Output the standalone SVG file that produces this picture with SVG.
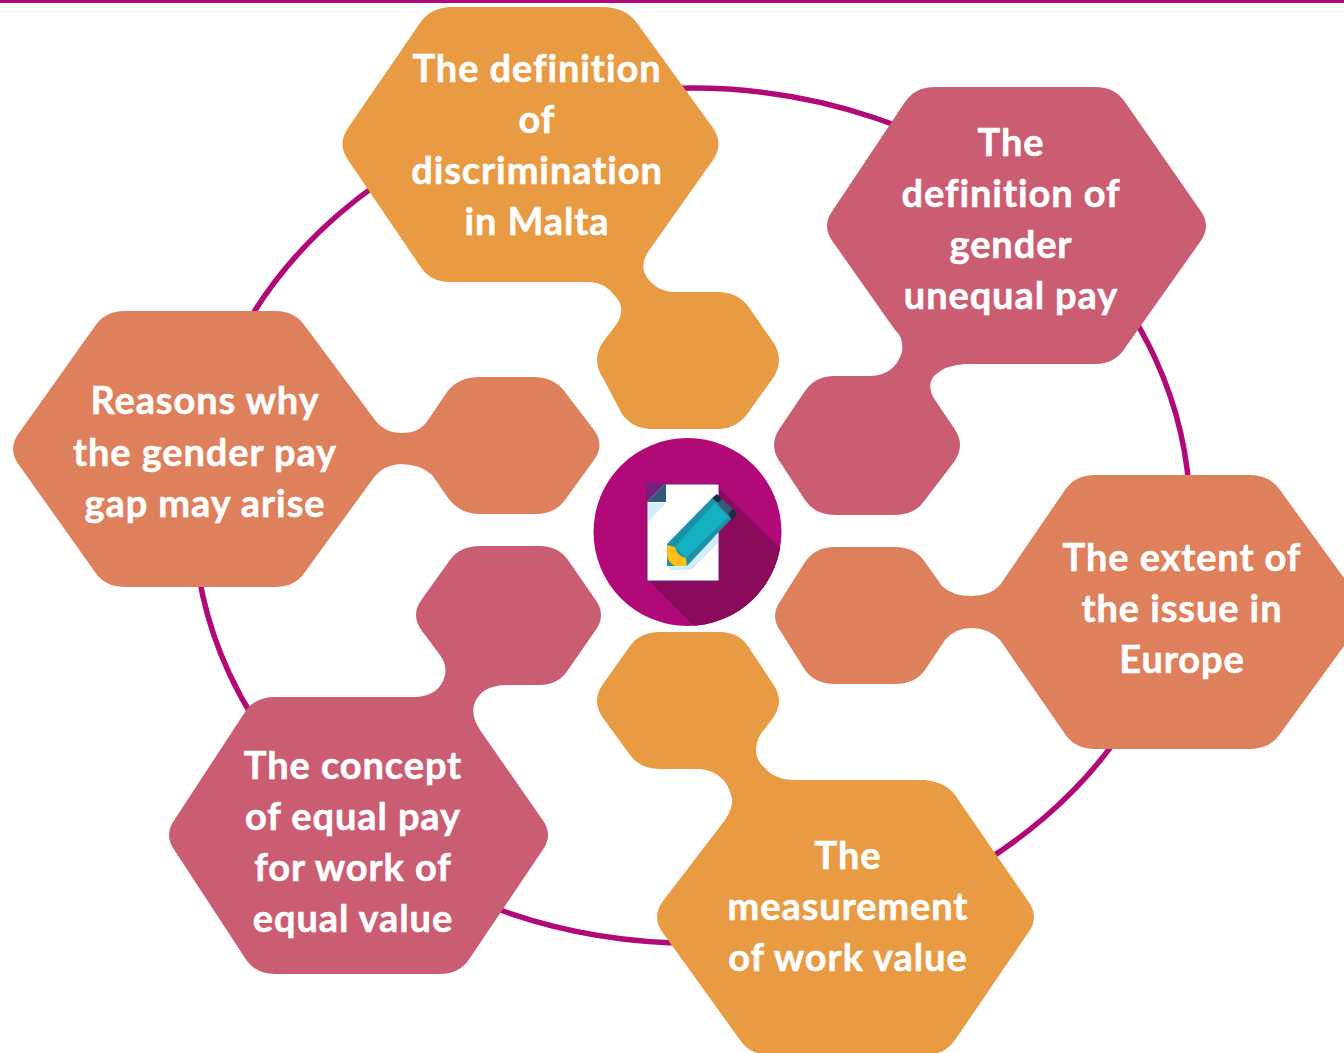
<svg xmlns="http://www.w3.org/2000/svg" width="1344" height="1053" viewBox="0 0 1344 1053">
<style>
.o{fill:#E99B43}.p{fill:#CB5D73}.s{fill:#DE805C}
text{font-family:"Lato","Liberation Sans",sans-serif;font-weight:700;font-size:38px;fill:#fff;stroke:#fff;stroke-width:.5px;letter-spacing:.9px;font-variant-ligatures:none;text-anchor:middle}
</style>
<defs><clipPath id="cc"><circle cx="687.5" cy="532" r="94"/></clipPath></defs>
<rect width="1344" height="1053" fill="#fff"/>
<rect width="1344" height="3" fill="#B10A78"/>
<g id="connectors"><ellipse cx="692" cy="515.500" rx="498" ry="427.500" fill="none" stroke="#B10A78" stroke-width="5.5"/></g>
<g id="node-top">
<path class="o" d="M450 7L605 7Q626 8 637 23L713 128Q724 144 713 160L648 252Q637 270 652 283Q660 291 672 292L720 292Q738 293 748 306L773 342Q785 360 773 378L748 413Q737 428 720 429L650 429Q632 428 622 414L603 378Q591 360 603 342L616 325Q627 308 615 296Q606 283 590 282L450 282Q430 282 420 266L348 160Q337 144 348 128L420 23Q430 8 450 7Z"/>
<text x="537" y="82">The definition</text><text x="537" y="133">of</text><text x="537" y="184">discrimination</text><text x="537" y="235">in Malta</text>
</g>
<g id="node-top-right">
<path class="p" d="M935 87L1095 87Q1115 87 1125 102L1200 210Q1212 226 1200 242L1125 348Q1115 364 1095 364L965 364Q945 365 934 376Q926 386 935 400L954 428Q966 445 954 462L925 500Q915 515 895 515L835 515Q815 515 805 500L780 462Q768 445 780 428L805 391Q815 376 835 376L870 376Q895 375 902 352Q904 338 895 330L833 242Q821 226 833 210L905 102Q915 87 935 87Z"/>
<text x="1011" y="156">The</text><text x="1011" y="207">definition of</text><text x="1011" y="258">gender</text><text x="1011" y="309">unequal pay</text>
</g>
<g id="node-right">
<path class="s" d="M1095 475L1250 475Q1270 475 1280 490L1344 578L1344 646L1280 734Q1270 749 1250 749L1095 749Q1075 749 1065 734L1000 640Q988 628 972 628Q955 628 945 640L925 670Q915 684 895 684L835 684Q815 684 805 670L781 632Q769 616 781 600L805 562Q815 547 835 547L895 547Q915 547 925 562L942 586Q952 596 972 596Q990 596 1000 585L1065 490Q1075 475 1095 475Z"/>
<text x="1182" y="571">The extent of</text><text x="1182" y="622">the issue in</text><text x="1182" y="673">Europe</text>
</g>
<g id="node-bottom">
<path class="o" d="M660 632L720 632Q738 632 748 646L773 684Q785 701 773 718L760 735Q750 755 765 768Q775 780 795 780L925 780Q945 782 955 795L1028 901Q1040 917 1028 933L955 1040Q945 1055 925 1055L770 1055Q750 1055 740 1040L663 933Q651 917 663 901L725 820Q735 805 731 795Q725 772 700 769L660 769Q640 769 630 755L603 718Q591 701 603 684L630 646Q640 632 660 632Z"/>
<text x="848" y="869">The</text><text x="848" y="920">measurement</text><text x="848" y="971">of work value</text>
</g>
<g id="node-bottom-left">
<path class="p" d="M480 546L540 546Q558 546 568 560L595 599Q607 615 595 631L568 670Q558 685 540 685L505 685Q480 686 474 705Q471 716 480 730L542 819Q554 835 542 851L470 958Q460 974 440 974L275 974Q255 974 245 958L175 851Q163 835 175 819L245 712Q255 697 275 697L415 697Q440 696 445 675Q447 665 440 655L422 631Q410 615 422 599L450 560Q460 546 480 546Z"/>
<text x="353" y="779">The concept</text><text x="353" y="830">of equal pay</text><text x="353" y="881">for work of</text><text x="353" y="932">equal value</text>
</g>
<g id="node-left">
<path class="s" d="M125 311L275 311Q295 311 305 326L375 420Q385 433 402 433Q420 433 428 420L447 392Q458 377 480 377L535 377Q555 378 565 392L594 430Q605 445 594 460L565 500Q555 514 535 514L480 514Q460 514 448 498L432 475Q420 464 400 464Q385 465 375 476L305 572Q295 587 275 587L125 587Q105 587 95 572L19 465Q7 449 19 433L95 326Q105 311 125 311Z"/>
<text x="205" y="414">Reasons why</text><text x="205" y="466">the gender pay</text><text x="205" y="517">gap may arise</text>
</g>
<g id="node-center">
<circle cx="687.5" cy="532" r="94" fill="#B10A78"/>
<polygon points="719,488 779,547 800,570 800,640 695,627 649,581" fill="#8A0A5C" clip-path="url(#cc)"/>
<rect x="647" y="484" width="72" height="97" fill="#fff" stroke="#6A1F80" stroke-width="1"/>
<polygon points="648,503 666,503 648,522" fill="#D2ECFA"/>
<polygon points="646,483 666,483 646,503" fill="#732080"/>
<polygon points="666,483 666,502 647,502" fill="#335A78"/>
<polygon points="718,535 718,543 691,570 670,570 669,566" fill="#D2ECFA"/>
<polygon points="667,544 712,498 732,518 687,566 667,566" fill="#1A93A8"/>
<polygon points="675,547 715,503 728,517 686,558" fill="#14B1C3"/>
<path d="M667 545L675 547Q677 556 686 558L687 566L675 566Q668 562 667 556Z" fill="#FFBF12"/>
<polygon points="717,503 722,499 733,509 728,514" fill="#335A78"/>
<polygon points="712,498 717,494 722,499 717,503" fill="#123047"/>
<polygon points="728,514 733,509 737,514 732,520" fill="#123047"/>
</g>
</svg>
